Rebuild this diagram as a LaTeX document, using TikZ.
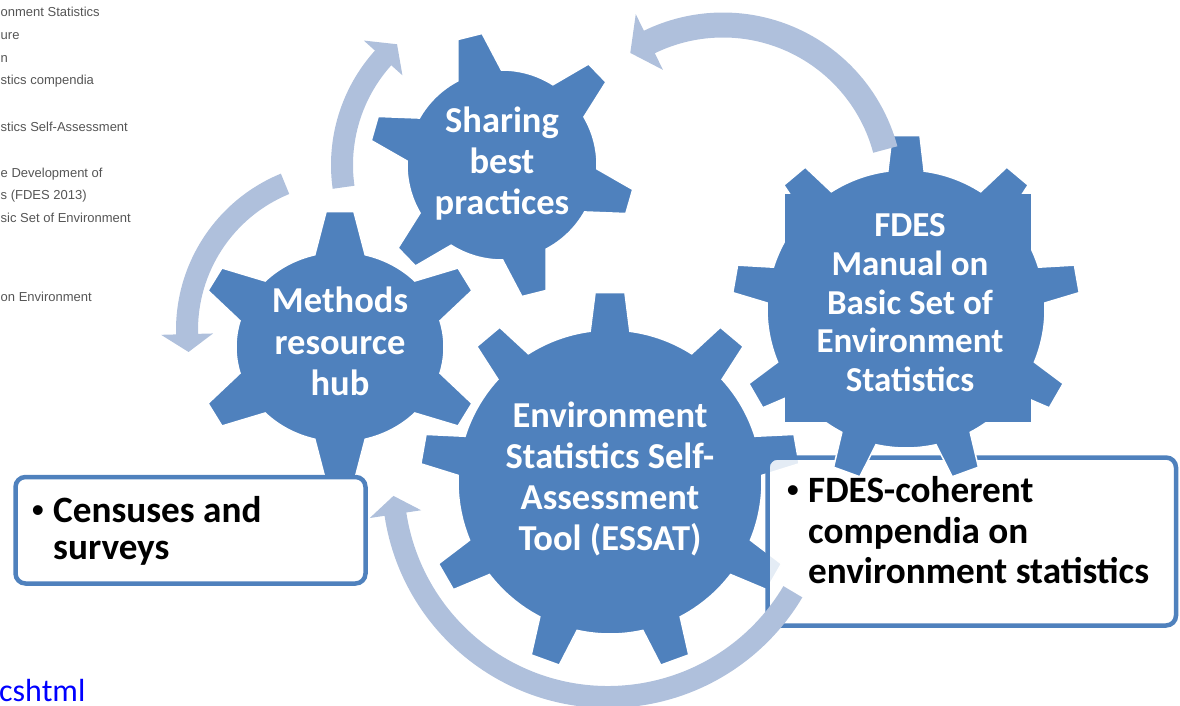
\documentclass[tikz,border=0pt]{standalone}
\usepackage{fontspec}
\setmainfont{Carlito}
\newfontfamily\arialf{Liberation Sans}
\definecolor{gearblue}{RGB}{79,129,189}
\definecolor{arrowblue}{RGB}{175,192,220}
\definecolor{webgray}{RGB}{85,85,85}
\definecolor{linkblue}{RGB}{0,0,255}
\tikzset{
  gearfill/.style={fill=gearblue, draw=white, line width=1.5pt, line join=miter},
  arrowfill/.style={fill=arrowblue},
  gearlabel/.style={text=white, font=\bfseries\fontsize{36.5}{41}\selectfont, align=center, inner sep=0pt, anchor=base},
  boxframe/.style={draw=gearblue, line width=4.5pt, rounded corners=10pt},
  boxtext/.style={font=\bfseries\fontsize{37.2}{41}\selectfont, inner sep=0pt, anchor=base west},
  bulletmark/.style={font=\arialf\fontsize{36}{41}\selectfont, inner sep=0pt, anchor=base},
  webtext/.style={font=\arialf\fontsize{13}{15}\selectfont, text=webgray, inner sep=0pt, anchor=base west},
}
% #1 centre, #2 teeth, #3 phase, #4 Rx, #5 Ry, #6 rx, #7 ry, #8 tip half angle, #9 base half angle
\newcommand\drawgear[9]{%
  \begin{scope}[shift={#1}]
    \path[gearfill] ({#3-#9}:{#6} and {#7})
      \foreach \k [evaluate=\k as \t using {#3+(\k-1)*360/#2}] in {1,...,#2}{
        -- ({\t-#9}:{#6} and {#7}) -- ({\t-#8}:{#4} and {#5})
        -- ({\t+#8}:{#4} and {#5}) -- ({\t+#9}:{#6} and {#7})
        arc[start angle={\t+#9}, end angle={\t+360/#2-#9}, x radius=#6, y radius=#7]
      } -- cycle;
  \end{scope}}
% #1 centre, #2 R, #3 half shaft, #4 half head, #5 tail angle, #6 head base angle, #7 tip angle
\newcommand\drawcircarrow[7]{%
  \begin{scope}[shift={#1}]
    \fill[arrowfill] ({#5}:{#2-#3}) arc[start angle={#5}, end angle={#6}, radius={#2-#3}]
      -- ({#6}:{#2-#4}) -- ({#7}:{#2}) -- ({#6}:{#2+#4}) -- ({#6}:{#2+#3})
      arc[start angle={#6}, end angle={#5}, radius={#2+#3}] -- cycle;
  \end{scope}}
\begin{document}
\begin{tikzpicture}[x=1pt,y=1pt]
\useasboundingbox (0,0) rectangle (1180,705);
\clip (0,0) rectangle (1180,705);

% web page text behind
\node[webtext] (w1) at (0.5,688.3) {onment Statistics};
\node[webtext] (w2) at (0.5,665) {ure};
\node[webtext] (w3) at (0.5,642) {n};
\node[webtext] (w4) at (0.5,620) {stics compendia};
\node[webtext] (w5) at (0.5,573.3) {stics Self-Assessment};
\node[webtext] (w6) at (0.5,527) {e Development of};
\node[webtext] (w7) at (0.5,505) {s (FDES 2013)};
\node[webtext] (w8) at (0.5,482) {sic Set of Environment};
\node[webtext] (w9) at (0.5,403.3) {on Environment};
\node[font=\fontsize{32}{36}\selectfont, text=linkblue, inner sep=0pt, anchor=base west] (link) at (-1,3.5) {cshtml};

% gear centres
\coordinate (gMethods) at (340,358);
\coordinate (gSharing) at (502,540);
\coordinate (gEssat) at (610,223);
\coordinate (gFdes) at (906,396);
\coordinate (aEssat) at (608,223);
\coordinate (aFdes) at (723,512);
\coordinate (aMethods) at (345,375);

\drawgear{(gMethods)}{6}{90}{145}{136}{104}{95}{5.5}{14}
\drawgear{(gSharing)}{6}{104}{133}{133}{95}{95}{5.4}{13.6}
\drawgear{(gEssat)}{9}{90}{190}{190}{152}{152}{4.5}{7.5}

% boxes
\path[boxframe, fill=white] (15.5,121.5) rectangle (365.5,228);
\path[boxframe, fill=white, fill opacity=0.85] (767.5,79.5) rectangle (1176,247.5);

\drawgear{(gFdes)}{9}{90}{174}{174}{139}{139}{4.6}{7.5}
\fill[gearblue] (785,283) rectangle (1031,511);

% circular arrows
\drawcircarrow{(aEssat)}{215}{11}{26}{-30.7}{-171.4}{-176.3}
\drawcircarrow{(aFdes)}{168}{12.5}{31}{15}{116}{123.5}
\drawcircarrow{(gSharing)}{160}{11}{26}{188}{138}{131}
\drawcircarrow{(aMethods)}{158}{11}{26}{112.3}{181.5}{188}

% gear labels (anchor = baseline of last line)
\node[gearlabel] (tSharing) at (502,490) {Sharing\\best\\practices};
\node[gearlabel] (tMethods) at (340,310) {Methods\\resource\\hub};
\node[gearlabel] (tEssat) at (610,155) {Environment\\Statistics Self-\\Assessment\\Tool (ESSAT)};
\node[gearlabel, font=\bfseries\fontsize{35}{38.75}\selectfont] (tFdes) at (910,313.3) {FDES\\Manual on\\Basic Set of\\Environment\\Statistics};

% box texts
\node[bulletmark] (b1) at (38,183) {•};
\node[boxtext] (c1) at (53,183) {Censuses and};
\node[boxtext] (c2) at (53,146) {surveys};
\node[bulletmark] (b2) at (793,203) {•};
\node[boxtext] (f1) at (808,203) {FDES-coherent};
\node[boxtext] (f2) at (808,162) {compendia on};
\node[boxtext] (f3) at (808,121.7) {environment statistics};
\end{tikzpicture}
\end{document}
